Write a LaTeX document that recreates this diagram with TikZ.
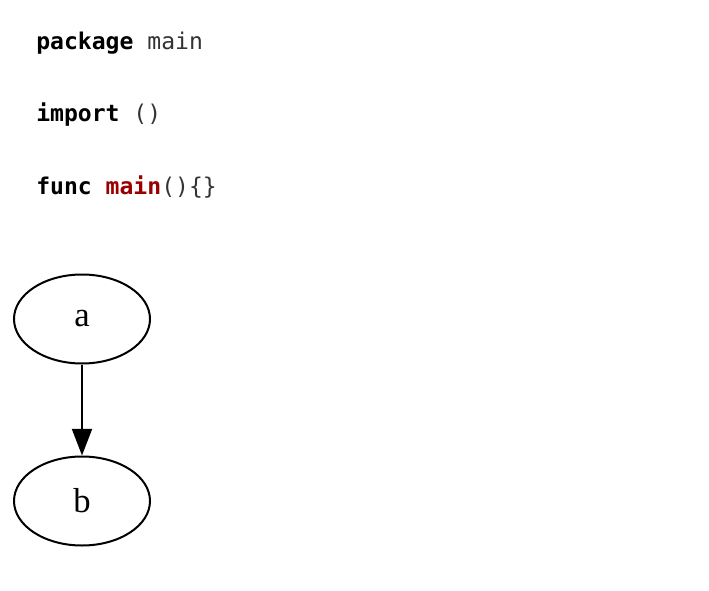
\documentclass[tikz,border=0pt]{standalone}
\usepackage{fontspec}
\setmainfont{Liberation Serif}
\setmonofont{DejaVu Sans Mono}
\usepackage{xcolor}
\usetikzlibrary{shapes.geometric, arrows.meta, positioning}
\definecolor{codegray}{HTML}{333333}
\definecolor{funcred}{HTML}{990000}
\tikzset{
    codeline/.style = {anchor=base west, inner sep=0pt, font=\ttfamily\fontsize{17.3}{20}\selectfont, text=codegray},
    gnode/.style = {ellipse, draw=black, line width=1.5pt, minimum width=102pt,
        minimum height=66.75pt, inner sep=0pt, font=\fontsize{26}{30}\selectfont},
}
\begin{document}
\begin{tikzpicture}[x=0.75pt, y=0.75pt, >={Triangle[length=20pt, width=15pt]}]
            \useasboundingbox (0,0) rectangle (709,590);
            % source text
            \node (pkg) [codeline] at (36,540) {\textcolor{black}{\textbf{package}} main};
            \node (imp) [codeline] at (36,468) {\textcolor{black}{\textbf{import}} ()};
            \node (fun) [codeline] at (36,396) {\textcolor{black}{\textbf{func}} \textcolor{funcred}{\textbf{main}}()\{\}};
            % graph
            \node (a) [gnode] at (82,271) {a};
            \node (b) [gnode, below=68.25pt of a] {b};
            \draw [->, line width=1.5pt] (a) -- (b);
\end{tikzpicture}
\end{document}
